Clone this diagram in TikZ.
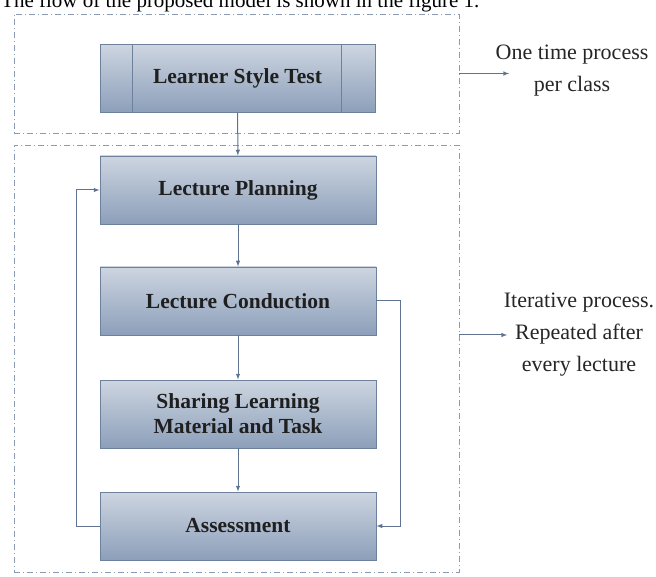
\documentclass[tikz,border=0pt]{standalone}
\usepackage{fontspec}
\setmainfont{Liberation Serif}
\usetikzlibrary{calc,arrows,positioning}

\definecolor{boxedge}{HTML}{6E819C}
\definecolor{boxtop}{HTML}{CDD5E0}
\definecolor{boxbot}{HTML}{8C9FBA}
\definecolor{flowline}{HTML}{5F7390}
\definecolor{frameline}{HTML}{8A9BB3}

\tikzset{
  stepbox/.style={draw=boxedge, line width=0.9pt, top color=boxtop, bottom color=boxbot,
    minimum width=276pt, minimum height=68pt, inner sep=0pt, align=center,
    font=\fontsize{21.5}{25}\selectfont\bfseries, text=black!88},
  frame/.style={draw=frameline, dash pattern=on 6pt off 3pt on 1pt off 3pt,
    minimum width=445pt, inner sep=0pt},
  flow/.style={draw=flowline, line width=1pt, -latex},
  note/.style={align=center, font=\fontsize{22}{32}\selectfont, text=black!85}
}

\begin{document}
\begin{tikzpicture}[x=1pt,y=-1pt]
  \useasboundingbox (0,0) rectangle (656,577);

  \node[anchor=base west,inner sep=0pt,font=\fontsize{21}{24}\selectfont] (caption) at (1,8)
    {The flow of the proposed model is shown in the figure 1.};

  % dash-dot frames
  \node[frame,minimum height=119pt] (onceframe) at (236.5,73.5) {};
  \node[frame,minimum height=427pt] (loopframe) at (236.5,358.5) {};

  % steps
  \node[stepbox,minimum width=275pt] (lst) at (237.5,78.5) {Learner Style Test};
  \draw[boxedge] ($(lst.north west)+(33,0)$) -- ($(lst.south west)+(33,0)$);
  \draw[boxedge] ($(lst.north east)+(-34,0)$) -- ($(lst.south east)+(-34,0)$);
  \node[stepbox] (plan) at (238,190) {Lecture Planning};
  \node[stepbox] (cond) at (238,301) {Lecture Conduction};
  \node[stepbox] (share) at (238,414) {Sharing Learning\\Material and Task};
  \node[stepbox] (assess) at (238,526) {Assessment};

  \draw[flow] (lst) -- (plan);
  \draw[flow] (plan) -- (cond);
  \draw[flow] (cond) -- (share);
  \draw[flow] (share) -- (assess);
  \draw[flow] (cond.east) -- ++(24,0) |- (assess.east);
  \draw[flow] (assess.west) -- ++(-23,0) |- (plan.west);

  % side notes
  \node[note] (once) at (572,71) {One time process\\per class};
  \node[note] (iter) at (579,335) {Iterative process.\\Repeated after\\every lecture};
  \draw[flow] (onceframe.east) -- ++(50,0);
  \draw[flow] (loopframe.east |- iter.west) -- ++(48,0);
\end{tikzpicture}
\end{document}
